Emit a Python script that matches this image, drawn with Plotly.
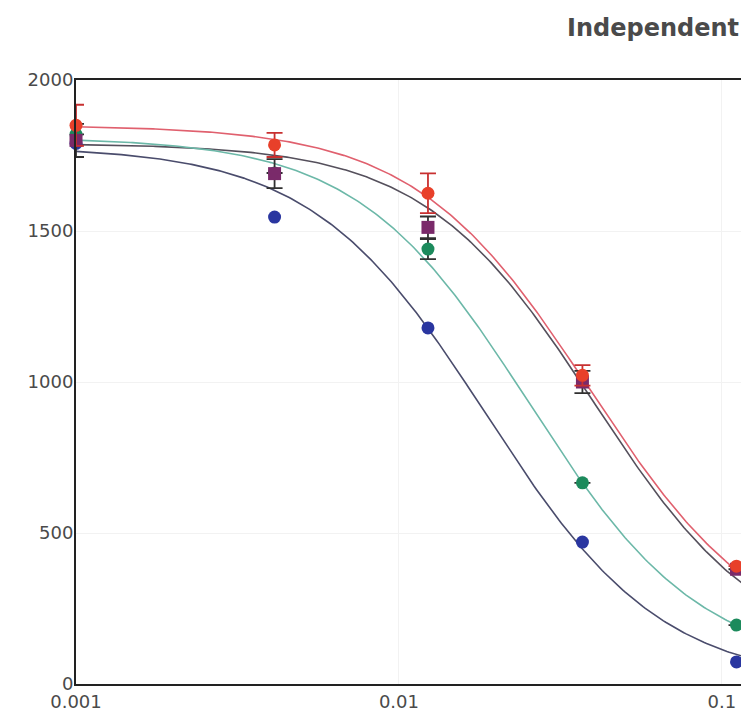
import numpy as np
import plotly.graph_objects as go

# concentrations (log x axis)
conc = [0.001, 0.00412, 0.0123, 0.037, 0.111]

# measured means
red_vals = [1850, 1785, 1625, 1022, 390]
red_err = [68, 40, 66, 34, 0]
maroon_vals = [1800, 1690, 1512, 1000, 380]
maroon_err = [55, 48, 36, 37, 0]
green_vals = [1820, 1692, 1440, 666, 195]
green_err = [0, 0, 33, 0, 0]
blue_vals = [1790, 1546, 1179, 470, 73]

# fitted 4PL parameters: top, bottom, EC50, hill
series_names = ["Red", "Maroon", "Green", "Blue"]
fit_top = [1850, 1790, 1810, 1780]
fit_bottom = [100, 80, 50, 0]
fit_ec50 = [0.039, 0.040, 0.0253, 0.0187]
fit_hill = [1.6, 1.65, 1.63, 1.6]

line_colors = ["#e0606e", "#55505c", "#6cb8a8", "#4a4c6c"]
marker_colors = ["#e8402a", "#7a2a6a", "#1c8a5c", "#2a36a0"]
marker_symbols = ["circle", "square", "circle", "circle"]

values = [red_vals, maroon_vals, green_vals, blue_vals]
errors = [red_err, maroon_err, green_err, None]
err_colors = ["#c83030", "#303030", "#303030", "#303030"]

fig = go.Figure()

xs = np.logspace(-3, -0.9, 300)
for i in range(4):
    y = fit_bottom[i] + (fit_top[i] - fit_bottom[i]) / (1 + (xs / fit_ec50[i]) ** fit_hill[i])
    fig.add_trace(go.Scatter(x=xs, y=y, mode="lines",
                             line=dict(color=line_colors[i], width=1.6),
                             showlegend=False, hoverinfo="skip"))

order = [3, 2, 1, 0]
for i in order:
    kw = {}
    if errors[i] is not None:
        kw["error_y"] = dict(type="data", array=errors[i], visible=True,
                             color=err_colors[i], thickness=1.8, width=8)
    fig.add_trace(go.Scatter(x=conc, y=values[i], mode="markers",
                             name=series_names[i],
                             marker=dict(color=marker_colors[i], size=13,
                                         symbol=marker_symbols[i]),
                             cliponaxis=False, showlegend=False, **kw))

fig.add_annotation(text="<b>Independent</b>", xref="paper", yref="paper",
                   x=(557 - 68) / 673, y=1.0, yshift=52, xanchor="left", yanchor="middle",
                   showarrow=False,
                   font=dict(family="DejaVu Sans, Verdana", size=24, color="#4a4a4a"))

tick_font = dict(family="DejaVu Sans", size=18, color="#4a4a4a")

fig.update_layout(
    width=741, height=707,
    margin=dict(l=68, r=0, t=72, b=31),
    paper_bgcolor="white", plot_bgcolor="white",
    showlegend=False,
    xaxis=dict(type="log", range=[-3, -0.916],
               tickvals=[0.001, 0.01, 0.1], ticktext=["0.001", "0.01", "0.1"],
               showline=True, linecolor="#222222", linewidth=2, mirror=True,
               showgrid=True, gridcolor="#f2f2f2", gridwidth=1,
               ticks="", tickfont=tick_font, zeroline=False, automargin=False),
    yaxis=dict(range=[0, 2000], tickvals=[0, 500, 1000, 1500, 2000],
               showline=True, linecolor="#222222", linewidth=2,
               showgrid=True, gridcolor="#f2f2f2", gridwidth=1,
               ticks="", tickfont=tick_font, zeroline=False, automargin=False,
               ticklabelstandoff=-3),
)

fig.write_html("out.html")
